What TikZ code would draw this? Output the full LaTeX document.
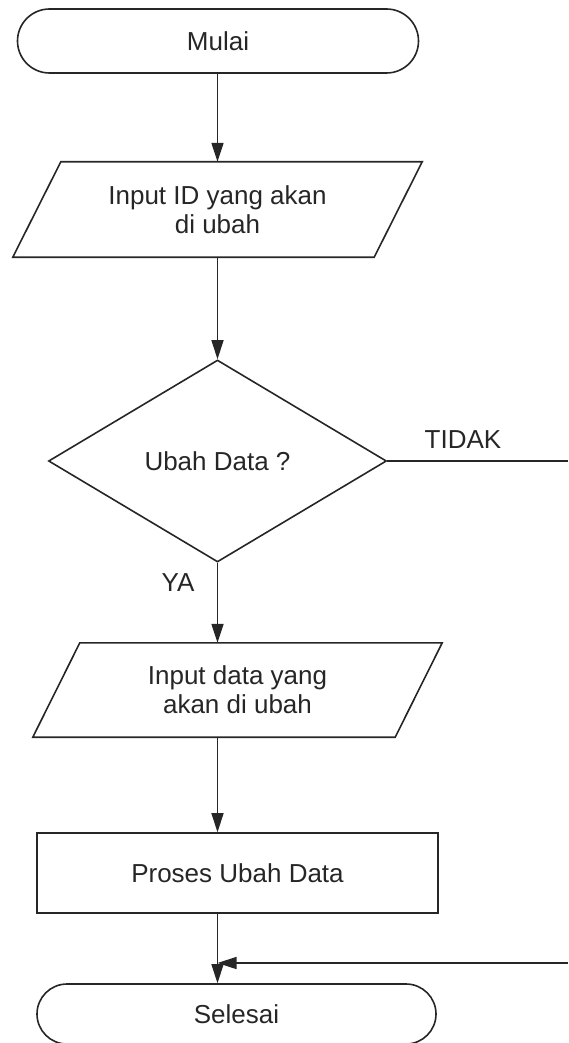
\documentclass[tikz,border=0pt]{standalone}
\usepackage{fontspec}
\setmainfont{Liberation Sans}
\usetikzlibrary{shapes.geometric,shapes.misc,arrows.meta}
\begin{document}
\begin{tikzpicture}[x=1pt,y=-1pt,
  font=\fontsize{26}{29}\selectfont,
  base/.style={line width=1.6pt, draw=black!85, text=black!85, inner sep=0pt, align=center},
  terminal/.style={base, rounded rectangle},
  process/.style={base, rectangle},
  decision/.style={base, diamond},
  iobox/.style={inner sep=0pt, align=center, text=black!85},
  edge/.style={line width=1.6pt, draw=black!85},
  arr/.style={edge, -{Triangle[length=19pt,width=12pt]}},
  lbl/.style={text=black!85, inner sep=0pt}]
\useasboundingbox (0,0) rectangle (568,1043);
% nodes
\node[terminal, minimum width=401pt, minimum height=64pt] (mulai) at (218,41) {Mulai};
\node[iobox, minimum width=409pt, minimum height=95pt] (p1) at (217.5,209.5) {Input ID yang akan\\di ubah};
\draw[edge] ([xshift=48pt]p1.north west) -- (p1.north east) -- ([xshift=-48pt]p1.south east) -- (p1.south west) -- cycle;
\node[decision, minimum width=338pt, minimum height=202pt] (d) at (217.5,461) {Ubah Data ?};
\node[iobox, minimum width=409pt, minimum height=94pt] (p2) at (237.5,690) {Input data yang\\akan di ubah};
\draw[edge] ([xshift=47pt]p2.north west) -- (p2.north east) -- ([xshift=-47pt]p2.south east) -- (p2.south west) -- cycle;
\node[process, minimum width=401pt, minimum height=80pt] (proc) at (237.5,873) {Proses Ubah Data};
\node[terminal, minimum width=399pt, minimum height=60pt] (selesai) at (236.5,1014) {Selesai};
\coordinate (tidakend) at (568,461);
\coordinate (backstart) at (568,963);
% connectors
\draw[arr] (mulai.south -| d.north) -- (d.north |- p1.north);
\draw[arr] (d.north |- p1.south) -- (d.north);
\draw[arr] (d.south) -- (d.south |- p2.north);
\draw[arr] (d.south |- p2.south) -- (d.south |- proc.north);
\draw[arr] (d.south |- proc.south) -- (d.south |- selesai.north);
\draw[edge] (d.east) -- (tidakend);
\draw[arr] (backstart) -- (d.south |- backstart);
% labels
\node[lbl] (ltidak) at (463,440) {TIDAK};
\node[lbl] (lya) at (178,583) {YA};
\end{tikzpicture}
\end{document}
